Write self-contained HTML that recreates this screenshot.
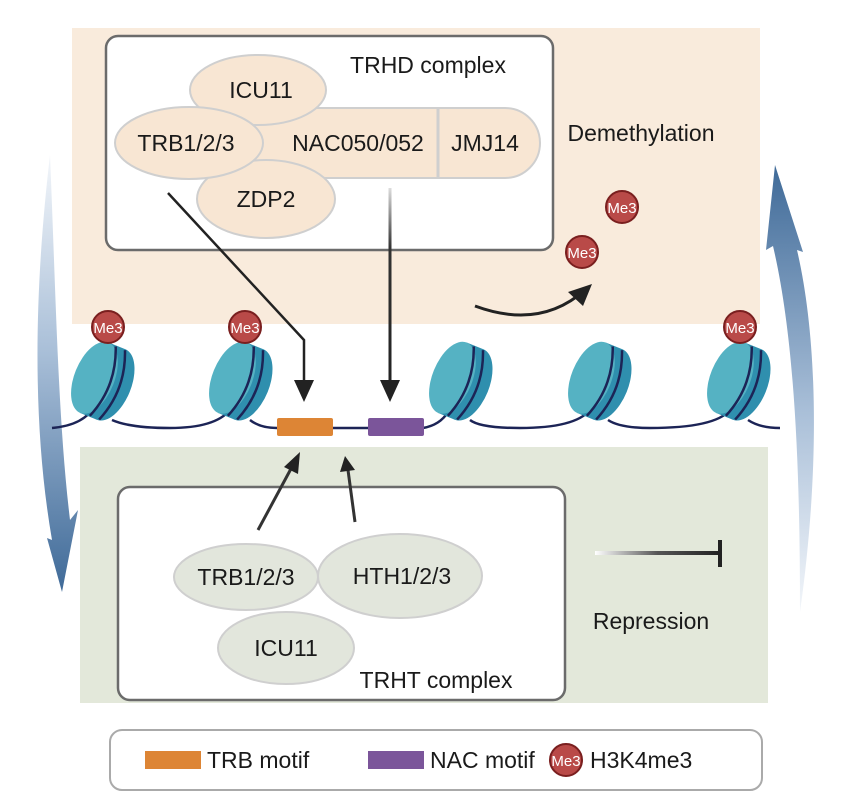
<!DOCTYPE html>
<html><head><meta charset="utf-8"><style>
body{margin:0;background:#fff}
svg{display:block;font-family:"Liberation Sans",Arial,sans-serif}
</style></head><body>
<svg width="857" height="807" viewBox="0 0 857 807">
<defs>
<linearGradient id="bl" x1="0" y1="0" x2="0" y2="1">
<stop offset="0" stop-color="#f3f6fa"/><stop offset="0.45" stop-color="#a9bfd8"/><stop offset="1" stop-color="#3f6a98"/></linearGradient>
<linearGradient id="br" x1="0" y1="1" x2="0" y2="0">
<stop offset="0" stop-color="#f3f6fa"/><stop offset="0.45" stop-color="#a9bfd8"/><stop offset="1" stop-color="#3f6a98"/></linearGradient>
<linearGradient id="rep" x1="0" y1="0" x2="1" y2="0">
<stop offset="0" stop-color="#fff"/><stop offset="0.5" stop-color="#555"/><stop offset="1" stop-color="#222"/></linearGradient>
<linearGradient id="vl" x1="0" y1="0" x2="0" y2="1">
<stop offset="0" stop-color="#ddd"/><stop offset="0.3" stop-color="#333"/><stop offset="1" stop-color="#222"/></linearGradient>
<g id="nuc">
<g transform="rotate(22)">
<ellipse cx="12" cy="0" rx="20" ry="38" fill="#2f8fae"/>
<rect x="-6" y="-38" width="18" height="76" fill="#2f8fae"/>
<ellipse cx="-6" cy="0" rx="20" ry="38" fill="#55b2c3"/>
<path d="M2,-37 Q18,0 4,37" fill="none" stroke="#1c2456" stroke-width="2.5"/>
<path d="M12,-37 Q28,0 14,37" fill="none" stroke="#1c2456" stroke-width="2.5"/>
</g></g>
<g id="me3">
<circle r="16" fill="#b94a48" stroke="#7a1f1f" stroke-width="2"/>
<text y="6" text-anchor="middle" font-size="15" fill="#fff">Me3</text>
</g>
</defs>
<rect x="72" y="28" width="688" height="296" fill="#f9ebdc"/>
<rect x="80" y="447" width="688" height="256" fill="#e3e8da"/>
<!-- side arrows -->
<path d="M50,155 C33,300 33,430 52,540 L47,538 L62,592 L78,510 L70,520 C58,420 56,300 50,155Z" fill="url(#bl)"/>
<path d="M800,612 C820,470 818,340 797,250 L803,252 L775,165 L766,250 L773,246 C795,340 800,470 800,612Z" fill="url(#br)"/>
<!-- top box -->
<rect x="106" y="36" width="447" height="214" rx="12" fill="#fff" stroke="#6b6b6b" stroke-width="2.5"/>
<rect x="240" y="108" width="300" height="70" rx="35" fill="#f8e6d3" stroke="#cfcfcf" stroke-width="2"/>
<line x1="438" y1="108" x2="438" y2="178" stroke="#cfcfcf" stroke-width="3"/>
<ellipse cx="258" cy="90" rx="68" ry="35" fill="#f8e6d3" stroke="#cfcfcf" stroke-width="2"/>
<ellipse cx="266" cy="199" rx="69" ry="39" fill="#f8e6d3" stroke="#cfcfcf" stroke-width="2"/>
<ellipse cx="189" cy="143" rx="74" ry="36" fill="#f8e6d3" stroke="#cfcfcf" stroke-width="2"/>
<g font-size="23" fill="#1a1a1a" text-anchor="middle">
<text x="261" y="98">ICU11</text>
<text x="186" y="151">TRB1/2/3</text>
<text x="266" y="207">ZDP2</text>
<text x="358" y="151">NAC050/052</text>
<text x="485" y="151">JMJ14</text>
<text x="428" y="73">TRHD complex</text>
<text x="641" y="141">Demethylation</text>
</g>
<use href="#me3" x="622" y="207"/>
<use href="#me3" x="582" y="252"/>
<path d="M475,306 Q540,330 585,290" fill="none" stroke="#222" stroke-width="3"/>
<polygon points="592,284 568,292 583,306" fill="#222"/>
<!-- DNA -->
<path d="M52,428 Q85,425 95,405 M112,420 Q130,428 170,428 Q215,428 230,410 M250,420 Q260,428 277,428 M332,428 L368,428 M423,428 Q440,425 448,412 M470,420 Q480,428 520,428 Q575,428 590,410 M608,420 Q620,428 650,428 Q715,428 730,410 M748,420 Q760,428 780,428" fill="none" stroke="#1c2456" stroke-width="2.5"/>
<line x1="108" y1="340" x2="108" y2="358" stroke="#222" stroke-width="2"/>
<line x1="245" y1="340" x2="245" y2="358" stroke="#222" stroke-width="2"/>
<line x1="740" y1="340" x2="740" y2="358" stroke="#222" stroke-width="2"/>
<use href="#nuc" x="100" y="380"/>
<use href="#nuc" x="238" y="380"/>
<use href="#nuc" x="458" y="380"/>
<use href="#nuc" x="597" y="380"/>
<use href="#nuc" x="736" y="380"/>
<use href="#me3" x="108" y="327"/>
<use href="#me3" x="245" y="327"/>
<use href="#me3" x="740" y="327"/>
<rect x="277" y="418" width="56" height="18" rx="2" fill="#dd8535"/>
<rect x="368" y="418" width="56" height="18" rx="2" fill="#7b559a"/>
<!-- down arrows -->
<path d="M168,193 L304,340 L304,385" fill="none" stroke="#222" stroke-width="2.5"/>
<polygon points="294,380 314,380 304,402" fill="#222"/>
<rect x="388.5" y="188" width="3" height="197" fill="url(#vl)"/>
<polygon points="380,380 400,380 390,402" fill="#222"/>
<!-- bottom box -->
<rect x="118" y="487" width="447" height="213" rx="12" fill="#fff" stroke="#6b6b6b" stroke-width="2.5"/>
<line x1="258" y1="530" x2="293" y2="465" stroke="#333" stroke-width="3"/>
<polygon points="300,452 284,467 298,474" fill="#222"/>
<line x1="355" y1="522" x2="348" y2="470" stroke="#333" stroke-width="3"/>
<polygon points="345,456 340,472 355,470" fill="#222"/>
<ellipse cx="246" cy="577" rx="72" ry="33" fill="#e2e6dc" stroke="#cfcfcf" stroke-width="2"/>
<ellipse cx="400" cy="576" rx="82" ry="42" fill="#e2e6dc" stroke="#cfcfcf" stroke-width="2"/>
<ellipse cx="286" cy="648" rx="68" ry="36" fill="#e2e6dc" stroke="#cfcfcf" stroke-width="2"/>
<g font-size="23" fill="#1a1a1a" text-anchor="middle">
<text x="246" y="585">TRB1/2/3</text>
<text x="402" y="584">HTH1/2/3</text>
<text x="286" y="656">ICU11</text>
<text x="436" y="688">TRHT complex</text>
<text x="651" y="629">Repression</text>
</g>
<rect x="595" y="551" width="125" height="4" fill="url(#rep)"/>
<rect x="718" y="540" width="4" height="27" fill="#222"/>
<!-- legend -->
<rect x="110" y="730" width="652" height="60" rx="12" fill="#fff" stroke="#aaa" stroke-width="2"/>
<rect x="145" y="751" width="56" height="18" fill="#dd8535"/>
<rect x="368" y="751" width="56" height="18" fill="#7b559a"/>
<use href="#me3" x="566" y="760"/>
<g font-size="23" fill="#1a1a1a">
<text x="207" y="768">TRB motif</text>
<text x="430" y="768">NAC motif</text>
<text x="590" y="768">H3K4me3</text>
</g>
</svg>
</body></html>
